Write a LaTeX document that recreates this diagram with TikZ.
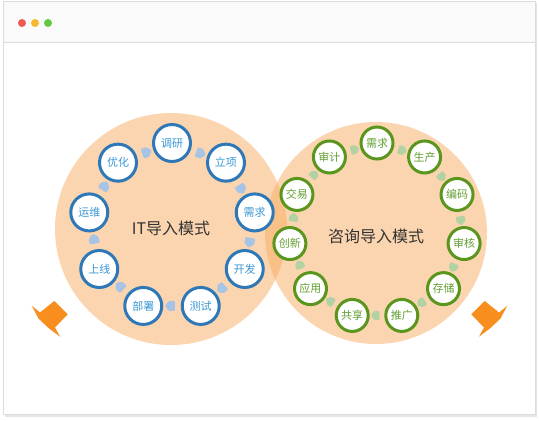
\documentclass[tikz,border=0pt]{standalone}
\usepackage{fontspec}
\newfontfamily\cjk{Noto Sans CJK SC}
\usetikzlibrary{shapes.symbols,shadows,calc}
\definecolor{peach}{HTML}{F9AD61}
\definecolor{framegray}{HTML}{DCDCDC}
\definecolor{titlebg}{HTML}{FAFAFA}
\definecolor{dotred}{HTML}{EE5A52}
\definecolor{dotyellow}{HTML}{F5B82E}
\definecolor{dotgreen}{HTML}{5FC93F}
\definecolor{nblue}{HTML}{2F78B8}
\definecolor{tblue}{HTML}{3A98D6}
\definecolor{ngreen}{HTML}{5A961E}
\definecolor{tgreen}{HTML}{62A032}
\definecolor{ablue}{HTML}{A7C3E5}
\definecolor{agreen}{HTML}{B3D2A4}
\definecolor{orangeshape}{HTML}{F78E1E}
\definecolor{maintext}{HTML}{333333}
\tikzset{
  lnode/.style={circle, fill=white, draw=nblue, line width=3pt, minimum size=37pt, inner sep=0pt,
    text=tblue, font=\cjk\fontsize{11}{13}\selectfont,
    drop shadow={shadow xshift=0.8pt, shadow yshift=-1.2pt, opacity=0.25}},
  rnode/.style={circle, fill=white, draw=ngreen, line width=3pt, minimum size=32pt, inner sep=0pt,
    text=tgreen, font=\cjk\fontsize{11}{13}\selectfont,
    drop shadow={shadow xshift=0.8pt, shadow yshift=-1.2pt, opacity=0.25}},
  larrow/.style={signal, signal to=east, signal pointer angle=100, fill=ablue, minimum width=10pt, minimum height=10pt, inner sep=0pt, rounded corners=1pt},
  rarrow/.style={signal, signal to=east, signal pointer angle=100, fill=agreen, minimum width=9pt, minimum height=9pt, inner sep=0pt, rounded corners=1pt},
  bigtext/.style={text=maintext, font=\cjk\fontsize{16}{19}\selectfont},
  dot/.style={circle, minimum size=8pt, inner sep=0pt}
}
\begin{document}
\begin{tikzpicture}[x=1pt,y=-1pt]
\useasboundingbox (0,0) rectangle (539,421);
% window
\fill[black!10] (4.5,3) rectangle (536.5,416.5);
\draw[framegray, fill=white] (3.5,1.5) rectangle (535.5,414.5);
\fill[titlebg] (4,2) rectangle (535,42);
\draw[framegray] (4,42.5) -- (535,42.5);
\node[dot, fill=dotred] (d1) at (22,23) {};
\node[dot, fill=dotyellow] (d2) at (35,23) {};
\node[dot, fill=dotgreen] (d3) at (48,23) {};
% big circles
\fill[peach, fill opacity=0.5] (171,229) circle[radius=116pt];
\fill[peach, fill opacity=0.5] (376,233) circle[radius=111pt];
% orange shapes
\fill[orangeshape] (31.7,305.7) -- (40,312.5) -- (54.3,301) -- (67.7,314.3) -- (55,327.5) -- (60,336.7) -- (48.5,328) -- (38.5,318.5) -- cycle;
\fill[orangeshape] (507.3,305.7) -- (499,312.5) -- (484.7,301) -- (471.3,314.3) -- (484,327.5) -- (479,336.7) -- (490.5,328) -- (500.5,318.5) -- cycle;
% left ring
\foreach \t [count=\i] in {调研,立项,需求,开发,测试,部署,上线,运维,优化} {
  \pgfmathsetmacro\a{90-40*(\i-1)}
  \node[lnode] (L\i) at ({172+84*cos(\a)},{227-84*sin(\a)}) {\t};
}
\foreach \i in {1,...,9} {
  \pgfmathtruncatemacro\j{mod(\i,9)+1}
  \pgfmathsetmacro\r{90-40*(\i-1)-20-90}
  \node[larrow, rotate=\r] (LA\i) at ($(L\i)!0.5!(L\j)$) {};
}
% right ring
\foreach \t [count=\i] in {需求,生产,编码,审核,存储,推广,共享,应用,创新,交易,审计} {
  \pgfmathsetmacro\a{90-360/11*(\i-1)}
  \node[rnode] (R\i) at ({377+88*cos(\a)},{231-88*sin(\a)}) {\t};
}
\foreach \i in {1,...,11} {
  \pgfmathtruncatemacro\j{mod(\i,11)+1}
  \pgfmathsetmacro\r{90-360/11*(\i-1)-180/11-90}
  \node[rarrow, rotate=\r] (RA\i) at ($(R\i)!0.5!(R\j)$) {};
}
% center texts
\node[bigtext] (LT) at (171,228) {IT导入模式};
\node[bigtext] (RT) at (376,236) {咨询导入模式};
\end{tikzpicture}
\end{document}
